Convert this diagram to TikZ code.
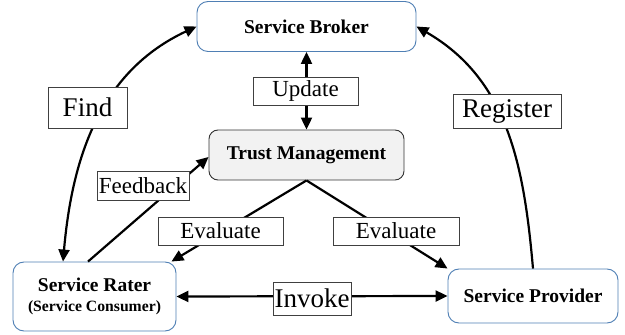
\documentclass[tikz,border=0pt]{standalone}
\usepackage{fontspec}
\setmainfont{Liberation Serif}
\usetikzlibrary{arrows.meta}
\definecolor{boxblue}{HTML}{4F7FB4}
\definecolor{tmfill}{HTML}{F2F2F2}
\begin{document}
\begin{tikzpicture}[x=1pt,y=1pt,
  entity/.style={draw=boxblue, line width=0.9pt, rounded corners=11pt, fill=white, align=center, inner sep=0pt, font=\fontsize{19.5}{21}\selectfont\bfseries},
  tmbox/.style={draw=black!80, line width=0.9pt, rounded corners=9pt, fill=tmfill, inner sep=0pt, font=\fontsize{19.5}{21}\selectfont\bfseries},
  lbl/.style={draw=black!75, line width=0.8pt, fill=white, inner sep=0pt, font=\fontsize{23}{25}\selectfont},
  biglbl/.style={draw=black!75, line width=0.8pt, fill=white, inner sep=0pt, font=\fontsize{27}{29}\selectfont},
  conn/.style={line width=2.2pt, {Triangle[length=12pt,width=11pt]}-{Triangle[length=12pt,width=11pt]}},
  conn1/.style={line width=2.2pt, -{Triangle[length=12pt,width=11pt]}}
]
\useasboundingbox (0,0) rectangle (625,335);
\node[entity, minimum width=219pt, minimum height=50pt] (broker) at (306.5,308.5) {Service Broker};
\node[tmbox, minimum width=195pt, minimum height=50pt] (tm) at (306.5,180) {Trust Management};
\node[entity, minimum width=163pt, minimum height=69pt] (rater) at (94.5,38.5) {Service Rater\\[-1pt]{\fontsize{15.7}{17}\selectfont(Service Consumer)}};
\node[entity, minimum width=170pt, minimum height=54pt] (provider) at (533,39) {Service Provider};

\draw[conn] (broker.south) -- (tm.north);
\draw[conn] ([xshift=-31.5pt]rater.north) to[out=85,in=205] (broker.west);
\draw[conn1] (provider.north) to[out=95,in=-30] (broker.east);
\draw[conn1] ([xshift=-6.5pt]rater.north) -- ([yshift=-2pt]tm.west);
\draw[conn1] (tm.south) -- ([xshift=-5pt]rater.north east);
\draw[conn1] (tm.south) -- (provider.north west);
\draw[conn] (rater.east) -- (provider.west);

\node[lbl, minimum width=105pt, minimum height=28pt] (update) at (305.5,244) {Update};
\node[biglbl, minimum width=79pt, minimum height=41pt] (find) at (87.5,227.5) {Find};
\node[biglbl, minimum width=108pt, minimum height=34pt] (register) at (507,224) {Register};
\node[lbl, minimum width=92pt, minimum height=29pt] (feedback) at (143,149.5) {Feedback};
\node[lbl, minimum width=125pt, minimum height=28pt] (evall) at (220.5,104) {Evaluate};
\node[lbl, minimum width=126pt, minimum height=28pt] (evalr) at (396,104) {Evaluate};
\node[biglbl, minimum width=78pt, minimum height=33pt] (invoke) at (312,36.5) {Invoke};
\end{tikzpicture}
\end{document}
